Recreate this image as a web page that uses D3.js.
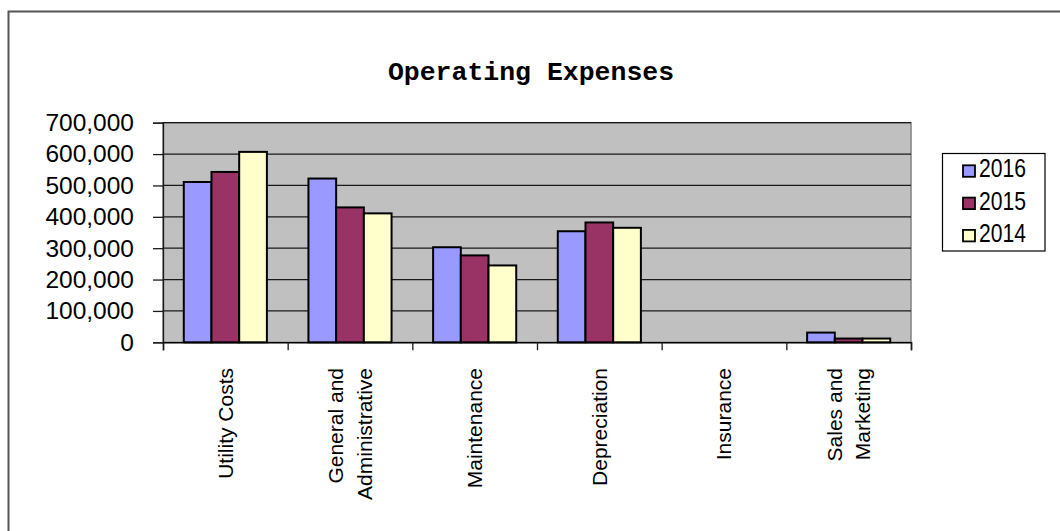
<!DOCTYPE html>
<html>
<head>
<meta charset="utf-8">
<script src="https://cdn.jsdelivr.net/npm/d3@7"></script>
<style>
  body { margin: 0; background: #fff; }
  svg { display: block; }
</style>
</head>
<body>
<div id="chart"></div>
<script>
// chart data
const categories = ['Utility Costs', 'General and|Administrative', 'Maintenance', 'Depreciation', 'Insurance', 'Sales and|Marketing'];
const seriesNames = ['2016', '2015', '2014'];
const values2016 = [511000, 522000, 303000, 354000, 0, 31000];
const values2015 = [543000, 430000, 277000, 382000, 0, 12000];
const values2014 = [607000, 411000, 245000, 365000, 0, 12000];
const yTicks = [0, 100000, 200000, 300000, 400000, 500000, 600000, 700000];

const seriesValues = [values2016, values2015, values2014];
const colors = ['#9999ff', '#993366', '#ffffcc'];

const width = 1060;
const height = 531;
const plot = { left: 163, right: 911, top: 122.7, bottom: 342.3 };

const svg = d3.select('#chart')
  .append('svg')
  .attr('width', width)
  .attr('height', height);

// outer chart border (right/bottom edges fall outside the window)
svg.append('rect')
  .attr('x', 8.5).attr('y', 11.5)
  .attr('width', 1100).attr('height', 600)
  .attr('fill', '#fff')
  .attr('stroke', '#555')
  .attr('stroke-width', 2);

// title
svg.append('text')
  .attr('x', 531)
  .attr('y', 80)
  .attr('text-anchor', 'middle')
  .style('font-family', '"Liberation Mono", "Courier New", monospace')
  .style('font-weight', 'bold')
  .style('font-size', '26.5px')
  .text('Operating Expenses');

// scales
const x0 = d3.scaleBand()
  .domain(categories)
  .range([plot.left, plot.right])
  .padding(0);

const bw = x0.bandwidth();
const x1 = d3.scaleBand()
  .domain(seriesNames)
  .range([bw / 6, bw * 5 / 6])
  .padding(0);

const y = d3.scaleLinear()
  .domain([0, 700000])
  .range([plot.bottom, plot.top]);

// plot area
svg.append('rect')
  .attr('x', plot.left)
  .attr('y', plot.top)
  .attr('width', plot.right - plot.left)
  .attr('height', plot.bottom - plot.top)
  .attr('fill', '#c0c0c0')
  .attr('stroke', '#808080')
  .attr('stroke-width', 1.5);

// gridlines
svg.append('g')
  .selectAll('line')
  .data(yTicks.filter(d => d > 0))
  .enter().append('line')
  .attr('x1', plot.left)
  .attr('x2', plot.right)
  .attr('y1', d => y(d))
  .attr('y2', d => y(d))
  .attr('stroke', '#1a1a1a')
  .attr('stroke-width', 1.3);

// bars
const groups = svg.append('g')
  .selectAll('g')
  .data(categories)
  .enter().append('g')
  .attr('transform', d => `translate(${x0(d)},0)`);

groups.selectAll('rect')
  .data((d, i) => seriesNames.map((s, j) => ({ series: s, value: seriesValues[j][i], color: colors[j] })))
  .enter().filter(d => d.value > 0).append('rect')
  .attr('x', d => x1(d.series))
  .attr('y', d => y(d.value))
  .attr('width', x1.bandwidth())
  .attr('height', d => y(0) - y(d.value))
  .attr('fill', d => d.color)
  .attr('stroke', '#000')
  .attr('stroke-width', 2);

// y axis
const yAxis = svg.append('g')
  .attr('transform', `translate(${plot.left},0)`)
  .call(d3.axisLeft(y)
    .tickValues(yTicks)
    .tickSize(10)
    .tickPadding(19)
    .tickFormat(d3.format(',')));

yAxis.select('.domain').attr('stroke', '#1a1a1a').attr('stroke-width', 1.3);
yAxis.selectAll('.tick line').attr('stroke', '#1a1a1a').attr('stroke-width', 1.3);
yAxis.selectAll('text')
  .style('font-family', '"Liberation Sans", Arial, sans-serif')
  .style('font-size', '24.5px')
  .attr('fill', '#000');

// x axis
const xAxis = svg.append('g')
  .attr('transform', `translate(0,${plot.bottom})`)
  .call(d3.axisBottom(d3.scaleLinear().domain([0, categories.length]).range([plot.left, plot.right]))
    .ticks(categories.length)
    .tickSize(8)
    .tickFormat(''));

xAxis.select('.domain').attr('stroke', '#000').attr('stroke-width', 1.5);
xAxis.selectAll('.tick line').attr('stroke', '#1a1a1a').attr('stroke-width', 1.3);

// category labels, rotated
const labels = svg.append('g')
  .selectAll('text')
  .data(categories)
  .enter().append('text')
  .attr('transform', d => `translate(${x0(d) + bw / 2},368) rotate(-90)`)
  .attr('text-anchor', 'end')
  .style('font-family', '"Liberation Sans", Arial, sans-serif')
  .style('font-size', '21px')
  .attr('fill', '#000');

labels.each(function(d) {
  const lines = d.split('|');
  const lineH = 28.5;
  const start = 7.3 - (lines.length - 1) * lineH / 2;
  lines.forEach((line, i) => {
    d3.select(this).append('tspan')
      .attr('x', 0)
      .attr('y', start + i * lineH)
      .text(line);
  });
});

// legend
const legend = svg.append('g');
legend.append('rect')
  .attr('x', 942.5).attr('y', 153.5)
  .attr('width', 102.5).attr('height', 97.5)
  .attr('fill', '#fff')
  .attr('stroke', '#000')
  .attr('stroke-width', 1.2);

seriesNames.forEach((s, i) => {
  const ry = 177.3 + i * 32.3;
  legend.append('rect')
    .attr('x', 963).attr('y', ry - 12)
    .attr('width', 12).attr('height', 11.5)
    .attr('fill', colors[i])
    .attr('stroke', '#000')
    .attr('stroke-width', 1.8);
  legend.append('text')
    .attr('x', 979)
    .attr('y', ry)
    .attr('textLength', 47)
    .attr('lengthAdjust', 'spacingAndGlyphs')
    .style('font-family', '"Liberation Sans", Arial, sans-serif')
    .style('font-size', '25px')
    .text(s);
});
</script>
</body>
</html>
